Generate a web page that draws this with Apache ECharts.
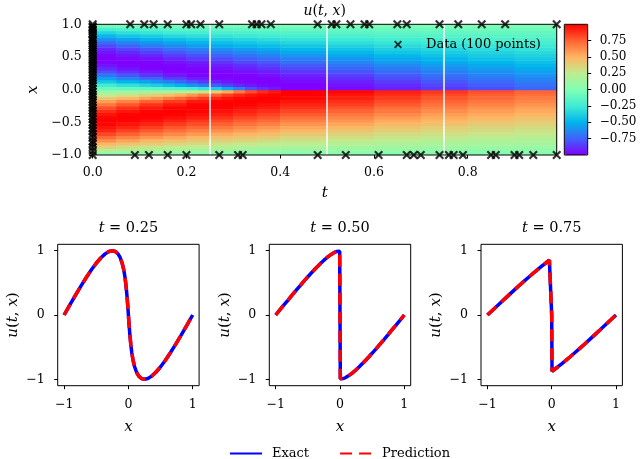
<!DOCTYPE html>
<html>
<head>
<meta charset="utf-8">
<script src="https://cdn.jsdelivr.net/npm/echarts@6/dist/echarts.min.js"></script>
<style>
	html, body { margin: 0; padding: 0; background: #fff; }
	#chart { width: 640px; height: 459px; }
</style>
</head>
<body>
<div id="chart"></div>
<script>
// heatmap cells: column edges in t, row edges in x, one column of u per t band (x from -0.975 up)
const tEdges = [0, 0.05, 0.1, 0.15, 0.2, 0.25, 0.3, 0.35, 0.4, 0.5, 0.6, 0.7, 0.8, 0.9, 0.99];
const xEdges = [-1, -0.95, -0.9, -0.85, -0.8, -0.75, -0.7, -0.65, -0.6, -0.55, -0.5, -0.45, -0.4, -0.35, -0.3, -0.25, -0.2, -0.15, -0.1, -0.05,
	0, 0.05, 0.1, 0.15, 0.2, 0.25, 0.3, 0.35, 0.4, 0.45, 0.5, 0.55, 0.6, 0.65, 0.7, 0.75, 0.8, 0.85, 0.9, 0.95, 1];
const uCols = [
	[0.07,0.22,0.36,0.49,0.61,0.72,0.82,0.90,0.95,0.99,1.00,0.99,0.95,0.89,0.80,0.69,0.56,0.41,0.25,0.08,-0.08,-0.25,-0.41,-0.56,-0.69,-0.80,-0.89,-0.95,-0.99,-1.00,-0.99,-0.95,-0.90,-0.82,-0.72,-0.61,-0.49,-0.36,-0.22,-0.07],
	[0.06,0.19,0.31,0.43,0.55,0.65,0.75,0.83,0.90,0.95,0.99,1.00,0.99,0.95,0.88,0.78,0.65,0.49,0.30,0.10,-0.10,-0.30,-0.49,-0.65,-0.78,-0.88,-0.95,-0.99,-1.00,-0.99,-0.95,-0.90,-0.83,-0.75,-0.65,-0.55,-0.43,-0.31,-0.19,-0.06],
	[0.06,0.17,0.28,0.39,0.49,0.59,0.68,0.77,0.84,0.91,0.96,0.99,1.00,0.99,0.94,0.87,0.75,0.58,0.37,0.13,-0.13,-0.37,-0.58,-0.75,-0.87,-0.94,-0.99,-1.00,-0.99,-0.96,-0.91,-0.84,-0.77,-0.68,-0.59,-0.49,-0.39,-0.28,-0.17,-0.06],
	[0.05,0.15,0.25,0.35,0.45,0.54,0.63,0.71,0.78,0.85,0.91,0.96,0.99,1.00,0.99,0.94,0.85,0.70,0.48,0.17,-0.17,-0.48,-0.70,-0.85,-0.94,-0.99,-1.00,-0.99,-0.96,-0.91,-0.85,-0.78,-0.71,-0.63,-0.54,-0.45,-0.35,-0.25,-0.15,-0.05],
	[0.05,0.14,0.23,0.32,0.41,0.49,0.58,0.66,0.73,0.80,0.86,0.92,0.96,0.99,1.00,0.99,0.94,0.83,0.63,0.26,-0.26,-0.63,-0.83,-0.94,-0.99,-1.00,-0.99,-0.96,-0.92,-0.86,-0.80,-0.73,-0.66,-0.58,-0.49,-0.41,-0.32,-0.23,-0.14,-0.05],
	[0.04,0.13,0.21,0.29,0.37,0.45,0.53,0.61,0.68,0.75,0.81,0.87,0.92,0.96,0.99,1.00,0.99,0.93,0.80,0.45,-0.45,-0.80,-0.93,-0.99,-1.00,-0.99,-0.96,-0.92,-0.87,-0.81,-0.75,-0.68,-0.61,-0.53,-0.45,-0.37,-0.29,-0.21,-0.13,-0.04],
	[0.04,0.12,0.19,0.27,0.35,0.42,0.49,0.57,0.63,0.70,0.76,0.82,0.88,0.92,0.96,0.99,1.00,0.98,0.92,0.74,-0.74,-0.92,-0.98,-1.00,-0.99,-0.96,-0.92,-0.88,-0.82,-0.76,-0.70,-0.63,-0.57,-0.49,-0.42,-0.35,-0.27,-0.19,-0.12,-0.04],
	[0.04,0.11,0.18,0.25,0.32,0.39,0.46,0.53,0.59,0.66,0.72,0.78,0.83,0.88,0.93,0.96,0.99,1.00,0.98,0.91,-0.91,-0.98,-1.00,-0.99,-0.96,-0.93,-0.88,-0.83,-0.78,-0.72,-0.66,-0.59,-0.53,-0.46,-0.39,-0.32,-0.25,-0.18,-0.11,-0.04],
	[0.03,0.10,0.16,0.23,0.29,0.35,0.42,0.48,0.54,0.60,0.66,0.71,0.77,0.82,0.87,0.91,0.95,0.98,1.00,1.00,-1.00,-1.00,-0.98,-0.95,-0.91,-0.87,-0.82,-0.77,-0.71,-0.66,-0.60,-0.54,-0.48,-0.42,-0.35,-0.29,-0.23,-0.16,-0.10,-0.03],
	[0.03,0.09,0.14,0.20,0.26,0.31,0.37,0.43,0.48,0.54,0.59,0.64,0.69,0.74,0.79,0.84,0.88,0.92,0.95,0.98,-0.98,-0.95,-0.92,-0.88,-0.84,-0.79,-0.74,-0.69,-0.64,-0.59,-0.54,-0.48,-0.43,-0.37,-0.31,-0.26,-0.20,-0.14,-0.09,-0.03],
	[0.02,0.08,0.13,0.18,0.23,0.28,0.33,0.38,0.43,0.48,0.53,0.58,0.63,0.68,0.72,0.77,0.81,0.85,0.89,0.92,-0.92,-0.89,-0.85,-0.81,-0.77,-0.72,-0.68,-0.63,-0.58,-0.53,-0.48,-0.43,-0.38,-0.33,-0.28,-0.23,-0.18,-0.13,-0.08,-0.02],
	[0.02,0.07,0.12,0.16,0.21,0.26,0.30,0.35,0.39,0.44,0.49,0.53,0.57,0.62,0.66,0.70,0.74,0.78,0.82,0.86,-0.86,-0.82,-0.78,-0.74,-0.70,-0.66,-0.62,-0.57,-0.53,-0.49,-0.44,-0.39,-0.35,-0.30,-0.26,-0.21,-0.16,-0.12,-0.07,-0.02],
	[0.02,0.06,0.11,0.15,0.19,0.23,0.28,0.32,0.36,0.40,0.44,0.49,0.53,0.57,0.61,0.65,0.69,0.73,0.76,0.80,-0.80,-0.76,-0.73,-0.69,-0.65,-0.61,-0.57,-0.53,-0.49,-0.44,-0.40,-0.36,-0.32,-0.28,-0.23,-0.19,-0.15,-0.11,-0.06,-0.02],
	[0.02,0.06,0.10,0.14,0.18,0.22,0.26,0.29,0.33,0.37,0.41,0.45,0.49,0.53,0.56,0.60,0.64,0.67,0.71,0.74,-0.74,-0.71,-0.67,-0.64,-0.60,-0.56,-0.53,-0.49,-0.45,-0.41,-0.37,-0.33,-0.29,-0.26,-0.22,-0.18,-0.14,-0.10,-0.06,-0.02]
];

// finer cells near the steep front around x = 0 (x from -0.125 up)
const tFineEdges = [0.1, 0.125, 0.15, 0.175, 0.2, 0.225, 0.25, 0.275, 0.3, 0.325, 0.35, 0.375, 0.4];
const xFineEdges = [-0.15, -0.1, -0.05, 0, 0.05, 0.1, 0.15];
const uFineCols = [
	[0.556, 0.352, 0.121, -0.121, -0.352, -0.556],
	[0.61, 0.395, 0.138, -0.138, -0.395, -0.61],
	[0.67, 0.448, 0.159, -0.159, -0.448, -0.67],
	[0.735, 0.51, 0.188, -0.188, -0.51, -0.735],
	[0.80, 0.59, 0.23, -0.23, -0.59, -0.80],
	[0.86, 0.67, 0.29, -0.29, -0.67, -0.86],
	[0.91, 0.76, 0.39, -0.39, -0.76, -0.91],
	[0.95, 0.84, 0.52, -0.52, -0.84, -0.95],
	[0.98, 0.90, 0.675, -0.675, -0.90, -0.98],
	[0.99, 0.945, 0.80, -0.80, -0.945, -0.99],
	[1.00, 0.975, 0.885, -0.885, -0.975, -1.00],
	[1.00, 0.99, 0.94, -0.94, -0.99, -1.00]
];

// training points: x at t = 0, t along x = 1, t along x = -1
const dataX0 = [1.0, 0.97, 0.95, 0.92, 0.90, 0.86, 0.84, 0.80, 0.77, 0.75, 0.71, 0.68, 0.64, 0.61, 0.58, 0.55, 0.51, 0.47, 0.44, 0.40,
	0.37, 0.33, 0.30, 0.26, 0.22, 0.18, 0.14, 0.10, 0.06, 0.01, -0.03, -0.07, -0.11, -0.15, -0.19, -0.24, -0.28, -0.32, -0.36, -0.41,
	-0.45, -0.50, -0.54, -0.59, -0.63, -0.68, -0.73, -0.79, -0.83, -0.88, -0.94, -1.0];
const dataTop = [0.08, 0.11, 0.13, 0.16, 0.20, 0.21, 0.23, 0.27, 0.34, 0.35, 0.36, 0.38, 0.48, 0.51, 0.52, 0.55, 0.58, 0.59, 0.65, 0.67, 0.74, 0.78, 0.83, 0.88, 0.99];
const dataBottom = [0.09, 0.12, 0.16, 0.20, 0.27, 0.31, 0.32, 0.48, 0.54, 0.61, 0.67, 0.685, 0.70, 0.74, 0.76, 0.77, 0.79, 0.85, 0.86, 0.90, 0.91, 0.94, 0.99];

const sliceT = [0.25, 0.5, 0.75];
const sliceLabels = ['0.25', '0.50', '0.75'];

// profiles u(t, x) at the three slices
const prof25X = [-1, -0.911, -0.823, -0.737, -0.653, -0.573, -0.498, -0.427, -0.362, -0.303, -0.25, -0.203, -0.162, -0.127, -0.098, -0.073, -0.053, -0.037, -0.023, -0.011,
	0, 0.011, 0.023, 0.037, 0.053, 0.073, 0.098, 0.127, 0.162, 0.203, 0.25, 0.303, 0.362, 0.427, 0.498, 0.573, 0.653, 0.737, 0.823, 0.911, 1];
const prof25U = [0, 0.156, 0.309, 0.454, 0.588, 0.707, 0.809, 0.891, 0.951, 0.988, 1, 0.988, 0.951, 0.891, 0.809, 0.707, 0.588, 0.454, 0.309, 0.156,
	0, -0.156, -0.309, -0.454, -0.588, -0.707, -0.809, -0.891, -0.951, -0.988, -1, -0.988, -0.951, -0.891, -0.809, -0.707, -0.588, -0.454, -0.309, -0.156, 0];
const prof50X = [-1, -0.936, -0.872, -0.808, -0.746, -0.684, -0.623, -0.564, -0.506, -0.450, -0.396, -0.345, -0.296, -0.249, -0.205, -0.163, -0.124, -0.089, -0.056, -0.027, -0.005,
	0, 0.005, 0.027, 0.056, 0.089, 0.124, 0.163, 0.205, 0.249, 0.296, 0.345, 0.396, 0.450, 0.506, 0.564, 0.623, 0.684, 0.746, 0.808, 0.872, 0.936, 1];
const prof50U = [0, 0.079, 0.156, 0.233, 0.309, 0.383, 0.454, 0.523, 0.588, 0.649, 0.707, 0.760, 0.809, 0.853, 0.891, 0.924, 0.951, 0.972, 0.988, 0.997, 0.99,
	0, -0.99, -0.997, -0.988, -0.972, -0.951, -0.924, -0.891, -0.853, -0.809, -0.760, -0.707, -0.649, -0.588, -0.523, -0.454, -0.383, -0.309, -0.233, -0.156, -0.079, 0];
const prof75X = [-1, -0.916, -0.833, -0.750, -0.668, -0.588, -0.510, -0.433, -0.359, -0.288, -0.220, -0.155, -0.093, -0.036, -0.005,
	0, 0.005, 0.036, 0.093, 0.155, 0.220, 0.288, 0.359, 0.433, 0.510, 0.588, 0.668, 0.750, 0.833, 0.916, 1];
const prof75U = [0, 0.079, 0.156, 0.233, 0.309, 0.383, 0.454, 0.523, 0.588, 0.649, 0.707, 0.760, 0.809, 0.853, 0.875,
	0, -0.875, -0.853, -0.809, -0.760, -0.707, -0.649, -0.588, -0.523, -0.454, -0.383, -0.309, -0.233, -0.156, -0.079, 0];

const tTicks = [0, 0.2, 0.4, 0.6, 0.8];
const xTicks = [-1, -0.5, 0, 0.5, 1];
const cbarTicks = [-0.75, -0.5, -0.25, 0, 0.25, 0.5, 0.75];
const lineTicks = [-1, 0, 1];

const FONT = 'DejaVu Serif';
const RAINBOW = ['#8000ff', '#4062fa', '#00b4ec', '#40ecd4', '#80ffb4', '#bfec8e', '#ffb462', '#ff6232', '#ff0000'];
const X_PATH = 'path://M1.7,0L5,3.3L8.3,0L10,1.7L6.7,5L10,8.3L8.3,10L5,6.7L1.7,10L0,8.3L3.3,5L0,1.7Z';

function fmt(n) {
	return function (v) {
		return (v < 0 ? '\u2212' : '') + Math.abs(v).toFixed(n);
	};
}

function renderCell(params, api) {
	let a = api.coord([api.value(0), api.value(3)]);
	let b = api.coord([api.value(1), api.value(2)]);
	return {
		type: 'rect',
		shape: { x: a[0], y: a[1], width: b[0] - a[0] + 0.5, height: b[1] - a[1] + 0.5 },
		style: { fill: api.visual('color') }
	};
}

function pushCells(out, te, xe, cols) {
	cols.forEach(function (col, i) {
		col.forEach(function (u, j) {
			out.push([te[i], te[i + 1], xe[j], xe[j + 1], u]);
		});
	});
}

let cells = [];
pushCells(cells, tEdges, xEdges, uCols);
pushCells(cells, tFineEdges, xFineEdges, uFineCols);

let points = []
	.concat(dataX0.map(function (x) { return [0, x]; }))
	.concat(dataTop.map(function (t) { return [t, 1]; }))
	.concat(dataBottom.map(function (t) { return [t, -1]; }));

let profiles = [[prof25X, prof25U], [prof50X, prof50U], [prof75X, prof75U]];
let panelLeft = [57.7, 269.3, 481];
let panelW = 141.4;

let italic = { fontStyle: 'italic', fontFamily: FONT, color: '#000' };
let tickLabel = { fontFamily: FONT, fontSize: 12.5, color: '#000' };
let tickLine = { show: true, length: 3.5, lineStyle: { color: '#000', width: 1 } };
let noLine = { show: false, onZero: false };

let grids = [
	{ left: 92.7, top: 24.3, width: 464, height: 130.7, show: true, borderColor: '#000', borderWidth: 1, z: 10 },
	{ left: 564.3, top: 24.3, width: 23.4, height: 130.7, show: true, borderColor: '#000', borderWidth: 1, z: 10 }
];
let xAxes = [
	{
		gridIndex: 0, type: 'value', min: 0, max: 0.99,
		axisLine: noLine, splitLine: { show: false },
		axisTick: Object.assign({ customValues: tTicks }, tickLine),
		axisLabel: Object.assign({ customValues: tTicks, formatter: fmt(1), margin: 11 }, tickLabel),
		name: 't', nameLocation: 'middle', nameGap: 31,
		nameTextStyle: Object.assign({ fontSize: 15 }, italic)
	},
	{ gridIndex: 1, type: 'value', min: 0, max: 1, show: false }
];
let yAxes = [
	{
		gridIndex: 0, type: 'value', min: -1, max: 1,
		axisLine: noLine, splitLine: { show: false },
		axisTick: Object.assign({ customValues: xTicks }, tickLine),
		axisLabel: Object.assign({ customValues: xTicks, formatter: fmt(1), margin: 11 }, tickLabel),
		name: 'x', nameLocation: 'middle', nameGap: 52, nameRotate: 90,
		nameTextStyle: Object.assign({ fontSize: 15 }, italic)
	},
	{
		gridIndex: 1, type: 'value', min: -1, max: 1, position: 'right',
		axisLine: noLine, splitLine: { show: false },
		axisTick: Object.assign({ customValues: cbarTicks }, tickLine),
		axisLabel: Object.assign({ customValues: cbarTicks, formatter: fmt(2), margin: 12 }, tickLabel, { fontSize: 12 })
	}
];

let series = [
	{
		type: 'custom',
		xAxisIndex: 0, yAxisIndex: 0,
		data: cells,
		encode: { x: [0, 1], y: [2, 3] },
		renderItem: renderCell,
		clip: true,
		silent: true,
		z: 2,
		markLine: {
			silent: true,
			symbol: 'none',
			label: { show: false },
			lineStyle: { color: '#fff', width: 1.5, type: 'solid' },
			data: sliceT.map(function (t) { return { xAxis: t }; })
		}
	},
	{
		type: 'scatter',
		name: 'Data (100 points)',
		xAxisIndex: 0, yAxisIndex: 0,
		data: points,
		symbol: X_PATH,
		symbolSize: 9,
		itemStyle: { color: '#000' },
		clip: false,
		silent: true,
		z: 12
	}
];

let graphics = [{
	type: 'text', x: 324.7, y: 11,
	style: {
		text: '{i|u}({i|t}, {i|x})', fill: '#000', fontFamily: FONT, fontSize: 14,
		align: 'center', verticalAlign: 'middle', textAlign: 'center', textVerticalAlign: 'middle',
		rich: { i: { fontStyle: 'italic', fontFamily: FONT, fontSize: 14 } }
	}
}];

profiles.forEach(function (p, k) {
	let gi = k + 2;
	grids.push({ left: panelLeft[k], top: 244.3, width: panelW, height: 141.4, show: true, borderColor: '#000', borderWidth: 1, z: 10 });
	xAxes.push({
		gridIndex: gi, type: 'value', min: -1.1, max: 1.1,
		axisLine: noLine, splitLine: { show: false },
		axisTick: Object.assign({ customValues: lineTicks }, tickLine),
		axisLabel: Object.assign({ customValues: lineTicks, formatter: fmt(0), margin: 13 }, tickLabel),
		name: 'x', nameLocation: 'middle', nameGap: 34,
		nameTextStyle: Object.assign({ fontSize: 15 }, italic)
	});
	yAxes.push({
		gridIndex: gi, type: 'value', min: -1.1, max: 1.1,
		axisLine: noLine, splitLine: { show: false },
		axisTick: Object.assign({ customValues: lineTicks }, tickLine),
		axisLabel: Object.assign({ customValues: lineTicks, formatter: fmt(0), margin: 13 }, tickLabel),
		name: '{i|u}({i|t}, {i|x})', nameLocation: 'middle', nameGap: 37, nameRotate: 90,
		nameTextStyle: {
			fontFamily: FONT, fontSize: 15, color: '#000',
			rich: { i: { fontStyle: 'italic', fontFamily: FONT, fontSize: 15, color: '#000' } }
		}
	});
	let pairs = p[0].map(function (x, i) { return [x, p[1][i]]; });
	series.push({
		type: 'line', name: 'Exact',
		xAxisIndex: gi, yAxisIndex: gi,
		data: pairs, symbol: 'none', silent: true,
		color: '#0000ff',
		lineStyle: { color: '#0000ff', width: 3.5 },
		z: 3
	});
	series.push({
		type: 'line', name: 'Prediction',
		xAxisIndex: gi, yAxisIndex: gi,
		data: pairs, symbol: 'none', silent: true,
		color: '#ff0000',
		lineStyle: { color: '#ff0000', width: 3.5, type: [12, 7] },
		z: 4
	});
	graphics.push({
		type: 'text', x: panelLeft[k] + panelW / 2, y: 228,
		style: {
			text: '{i|t} = ' + sliceLabels[k], fill: '#000', fontFamily: FONT, fontSize: 14.5,
			align: 'center', verticalAlign: 'middle', textAlign: 'center', textVerticalAlign: 'middle',
			rich: { i: { fontStyle: 'italic', fontFamily: FONT, fontSize: 14.5 } }
		}
	});
});

let myChart = echarts.init(document.getElementById('chart'));
let option = {
	animation: false,
	backgroundColor: '#fff',
	textStyle: { fontFamily: FONT },
	grid: grids,
	xAxis: xAxes,
	yAxis: yAxes,
	visualMap: {
		type: 'continuous',
		min: -1, max: 1,
		dimension: 4,
		seriesIndex: 0,
		calculable: false,
		hoverLink: false,
		orient: 'vertical',
		left: 564.3, top: 24.3,
		padding: 0,
		itemWidth: 23.4, itemHeight: 130.7,
		inRange: { color: RAINBOW },
		z: 4
	},
	legend: [
		{
			data: ['Exact', 'Prediction'],
			left: 229, top: 447, padding: 0,
			itemWidth: 32, itemHeight: 12, itemGap: 30,
			itemStyle: { color: 'rgba(0,0,0,0)', borderWidth: 0 },
			textStyle: { fontFamily: FONT, fontSize: 13, color: '#000', padding: [0, 0, 0, 5] },
			selectedMode: false
		},
		{
			data: ['Data (100 points)'],
			left: 394, top: 38, padding: 0,
			icon: X_PATH,
			itemWidth: 8, itemHeight: 8,
			textStyle: { fontFamily: FONT, fontSize: 13, color: '#000', padding: [0, 0, 0, 19] },
			selectedMode: false
		}
	],
	graphic: graphics,
	series: series
};
myChart.setOption(option);
</script>
</body>
</html>
